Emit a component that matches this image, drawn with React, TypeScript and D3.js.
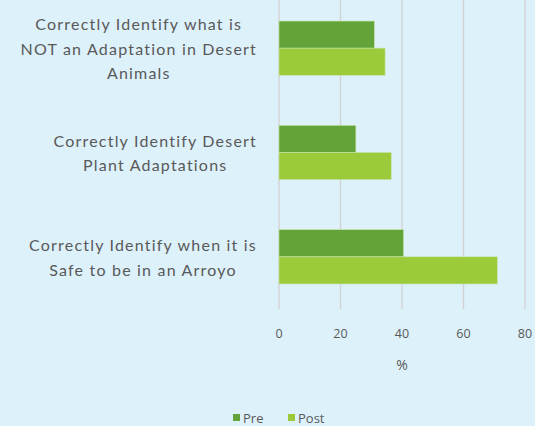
import React, { useEffect, useRef } from "react";
import * as d3 from "d3";

const categories = [
  ["Correctly Identify what is", "NOT an Adaptation in Desert", "Animals"],
  ["Correctly Identify Desert", "Plant Adaptations"],
  ["Correctly Identify when it is", "Safe to be in an Arroyo"],
];
const seriesNames = ["Pre", "Post"];
const preValues = [31, 25, 40.5];
const postValues = [34.5, 36.5, 71];
const xTicks = [0, 20, 40, 60, 80];

const colors = ["#63A43A", "#9BCB3B"];
const W = 535;
const H = 426;

const App = () => {
  const svgRef = useRef<SVGSVGElement>(null);

  useEffect(() => {
    const svg = d3.select(svgRef.current);
    svg.selectAll("*").remove();

    svg.append("rect").attr("width", W).attr("height", H).attr("fill", "#DDF1FB");

    const x = d3.scaleLinear().domain([0, 80]).range([279, 525]);
    const y = d3.scaleBand<number>().domain([0, 1, 2]).range([-4, 309]).paddingInner(0.48).paddingOuter(0.24);
    const sub = d3.scaleBand<number>().domain([0, 1]).range([0, y.bandwidth()]);

    // gridlines
    svg.append("g")
      .selectAll("line")
      .data(xTicks)
      .join("line")
      .attr("x1", d => x(d))
      .attr("x2", d => x(d))
      .attr("y1", 0)
      .attr("y2", 309)
      .attr("stroke", "#D3D3D3")
      .attr("stroke-width", 1.4);

    // tick labels
    svg.append("g")
      .selectAll("text")
      .data(xTicks)
      .join("text")
      .attr("x", d => x(d))
      .attr("y", 338)
      .attr("text-anchor", "middle")
      .attr("font-family", "Open Sans")
      .attr("font-size", 12.5)
      .attr("fill", "#595959")
      .text(d => d);

    svg.append("text")
      .attr("x", x(40))
      .attr("y", 370)
      .attr("text-anchor", "middle")
      .attr("font-family", "Open Sans")
      .attr("font-size", 14)
      .attr("fill", "#595959")
      .text("%");

    // bars
    const data = [preValues, postValues];
    data.forEach((vals, s) => {
      svg.append("g")
        .selectAll("rect")
        .data(vals)
        .join("rect")
        .attr("x", x(0))
        .attr("y", (_, i) => (y(i) as number) + (sub(s) as number))
        .attr("width", d => x(d) - x(0))
        .attr("height", sub.bandwidth())
        .attr("fill", colors[s])
        .attr("stroke", "#C6E3A6")
        .attr("stroke-width", 0.6);
    });

    // category labels: lines centered in a block right-aligned near the axis
    categories.forEach((lines, i) => {
      const g = svg.append("g");
      const cy = (y(i) as number) + y.bandwidth() / 2;
      const lh = 24.5;
      const texts = lines.map((t, j) =>
        g.append("text")
          .attr("y", cy + (j - (lines.length - 1) / 2) * lh + 6.5)
          .attr("text-anchor", "middle")
          .attr("font-family", "Lato")
          .attr("font-size", 16)
          .attr("letter-spacing", 1.2)
          .attr("fill", "#595959")
          .text(t)
      );
      const widths = texts.map(t => (t.node() as SVGTextElement).getComputedTextLength());
      const maxW = d3.max(widths) as number;
      const centerX = 257 - maxW / 2;
      texts.forEach(t => t.attr("x", centerX));
    });

    // legend
    const leg = svg.append("g");
    const legX = [233, 288];
    seriesNames.forEach((name, s) => {
      leg.append("rect")
        .attr("x", legX[s])
        .attr("y", 414)
        .attr("width", 7)
        .attr("height", 7)
        .attr("fill", colors[s]);
      leg.append("text")
        .attr("x", legX[s] + 10)
        .attr("y", 423)
        .attr("font-family", "Open Sans")
        .attr("font-size", 13)
        .attr("fill", "#595959")
        .text(name);
    });
  }, []);

  return (
    <svg
      ref={svgRef}
      width={W}
      height={H}
      style={{ position: "absolute", left: 0, top: 0, display: "block" }}
    />
  );
};

export default App;
